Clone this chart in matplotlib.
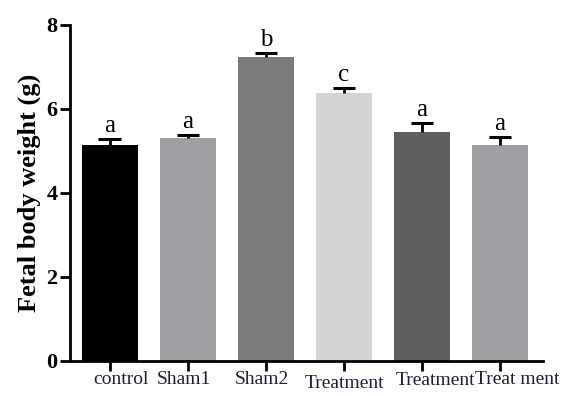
import numpy as np
import matplotlib.pyplot as plt
from matplotlib.transforms import ScaledTranslation

# Fetal body weight per group, mean and SEM (g)
groups = ['control', 'Sham1', 'Sham2', 'Treatment', 'Treatment', 'Treat ment']
means = [5.14, 5.31, 7.24, 6.38, 5.45, 5.14]
sems = [0.15, 0.07, 0.10, 0.12, 0.22, 0.19]
letters = ['a', 'a', 'b', 'c', 'a', 'a']
colors = ['#000000', '#9e9ea3', '#7b7b7b', '#d4d4d4', '#5f5f5f', '#9e9ea3']

# hand-placed nudges for the group labels (pixels)
label_dx = [11, -4, -4, 1, 13, 17]
label_dy = [0, 0, 0, -4, -1, 0]

plt.rcParams['font.family'] = ['Liberation Serif', 'DejaVu Serif']

fig = plt.figure(figsize=(5.65, 3.96), dpi=100)
ax = fig.add_axes([70 / 565, 1 - 361 / 396, (543 - 70) / 565, (361 - 25) / 396])

x = np.arange(len(groups))
ax.bar(x, means, width=0.72, color=colors, zorder=2)

# upper error bars only: stem from bar top plus a cap
tops = np.array(means) + np.array(sems)
ax.vlines(x, means, tops, color='black', linewidth=2, zorder=3)
ax.hlines(tops, x - 0.145, x + 0.145, color='black', linewidth=2.2, zorder=3)

for xi, t, lab in zip(x, tops, letters):
    ax.text(xi, t + 0.04, lab, ha='center', va='bottom', fontsize=18)

ax.set_xlim(-0.51, 5.55)
ax.set_ylim(0, 8)
ax.set_yticks([0, 2, 4, 6, 8])
ax.set_xticks(x)
ax.set_xticklabels([])
for lbl in ax.get_yticklabels():
    lbl.set_fontweight('bold')
    lbl.set_fontsize(16)

# group names placed by hand under the ticks
for xi, name, dx, dy in zip(x, groups, label_dx, label_dy):
    tr = ax.get_xaxis_transform() + ScaledTranslation(dx / 100, (dy - 10) / 100,
                                                      fig.dpi_scale_trans)
    ax.text(xi, 0, name, transform=tr, ha='center', va='top',
            fontsize=14, color='#1e1e3c', clip_on=False)

ax.set_ylabel('Fetal body weight (g)', fontsize=19, fontweight='bold', labelpad=4)

for side in ['top', 'right']:
    ax.spines[side].set_visible(False)
for side in ['left', 'bottom']:
    ax.spines[side].set_linewidth(2)
ax.tick_params(axis='both', width=2, length=7, direction='out')
ax.tick_params(axis='y', pad=2)

plt.savefig('out.png', dpi=100)
